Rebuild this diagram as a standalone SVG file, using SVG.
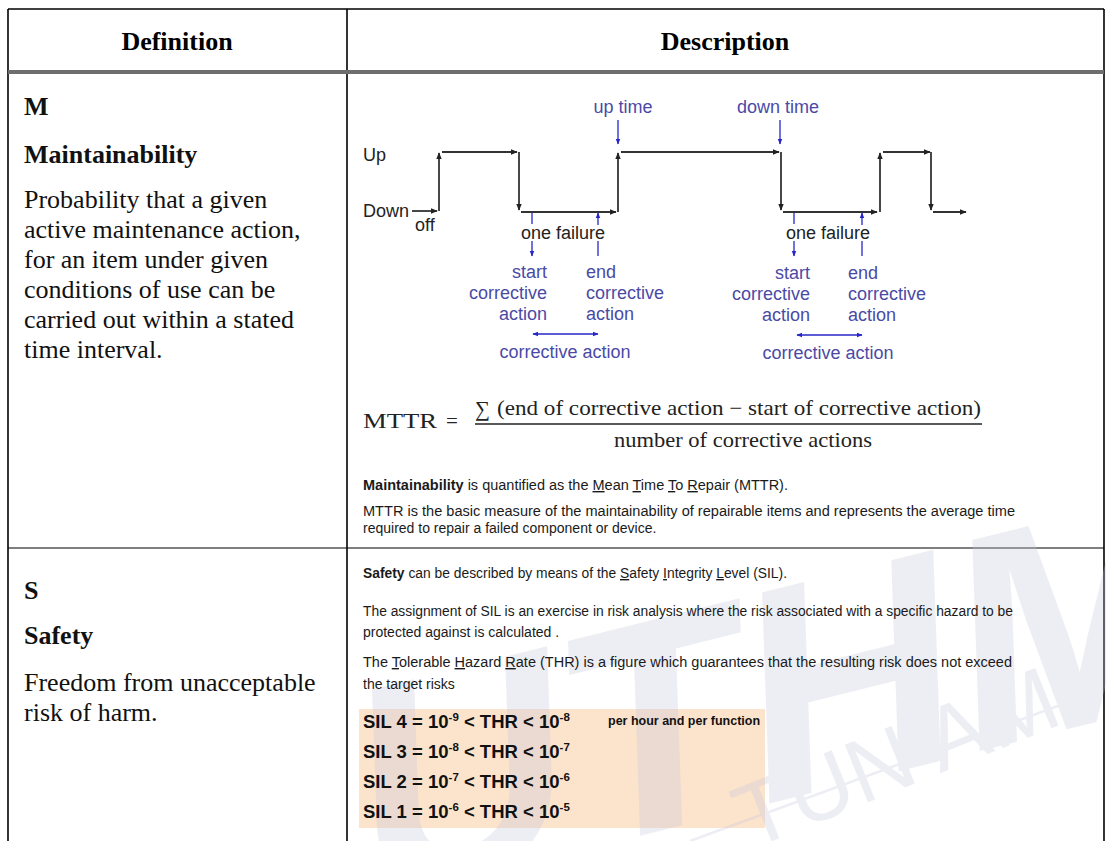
<svg xmlns="http://www.w3.org/2000/svg" width="1106" height="841" viewBox="0 0 1106 841">
<style>
.hdr{font-family:"Liberation Serif",serif;font-weight:bold;font-size:26px;fill:#000}
.lt{font-family:"Liberation Serif",serif;font-size:26px;fill:#111}
.ltb{font-family:"Liberation Serif",serif;font-size:26px;font-weight:bold;fill:#111}
.dg{font-family:"Liberation Sans",Arial,sans-serif;font-size:18px;fill:#222}
.bl{font-family:"Liberation Sans",Arial,sans-serif;font-size:18px;fill:#4a4aa6}
.fm{font-family:"Liberation Serif",serif;font-size:21px;fill:#222}
.ft{font-family:"Liberation Sans",Arial,sans-serif;font-size:14px;fill:#1a1a1a}
.sil{font-family:"Liberation Sans",Arial,sans-serif;font-size:18.5px;font-weight:bold;fill:#111}
.sup{font-size:11.5px}
.ph{font-family:"Liberation Sans",Arial,sans-serif;font-size:12.5px;font-weight:bold;fill:#111}
.u{text-decoration:underline}
.wave{stroke:#333;stroke-width:1.8;fill:none;marker-end:url(#ah)}
.bln{stroke:#2626c8;stroke-width:1.3;fill:none}
.tbl{stroke:#000;stroke-width:1.6}
.wm{font-family:"Liberation Sans",sans-serif;fill:#c4c4de}
</style>
<defs>
<marker id="ah" viewBox="0 0 10 10" refX="9" refY="5" markerWidth="7" markerHeight="7" markerUnits="userSpaceOnUse" orient="auto"><path d="M0,1 L10,5 L0,9 z" fill="#222"/></marker>
<marker id="bh" viewBox="0 0 10 10" refX="9" refY="5" markerWidth="6" markerHeight="6" markerUnits="userSpaceOnUse" orient="auto-start-reverse"><path d="M0,1 L10,5 L0,9 z" fill="#2626c8"/></marker>
</defs>
<rect width="1106" height="841" fill="#fff"/>

<g id="table">
<line class="tbl" x1="8" y1="9" x2="1104" y2="9"/>
<line class="tbl" x1="8" y1="9" x2="8" y2="841"/>
<line class="tbl" x1="347" y1="9" x2="347" y2="841"/>
<line class="tbl" x1="1104" y1="9" x2="1104" y2="841"/>
<rect x="8" y="70" width="1096" height="4" fill="#6e6e6e"/>
<line x1="8" y1="548" x2="1104" y2="548" stroke="#000" stroke-width="1.2"/>
</g>

<g id="header">
<text class="hdr" x="177" y="50" text-anchor="middle">Definition</text>
<text class="hdr" x="725" y="50" text-anchor="middle">Description</text>
</g>

<g id="def-m">
<text class="ltb" x="24" y="115">M</text>
<text class="ltb" x="24" y="163">Maintainability</text>
<text class="lt" x="24" y="208">Probability that a given</text>
<text class="lt" x="24" y="238">active maintenance action,</text>
<text class="lt" x="24" y="268">for an item under given</text>
<text class="lt" x="24" y="298">conditions of use can be</text>
<text class="lt" x="24" y="328">carried out within a stated</text>
<text class="lt" x="24" y="358">time interval.</text>
</g>

<g id="def-s">
<text class="ltb" x="24" y="599">S</text>
<text class="ltb" x="24" y="644">Safety</text>
<text class="lt" x="24" y="691">Freedom from unacceptable</text>
<text class="lt" x="24" y="721">risk of harm.</text>
</g>

<g id="timing-labels">
<text class="dg" x="363" y="161">Up</text>
<text class="dg" x="363" y="217">Down</text>
<text class="dg" x="415" y="231">off</text>
<text class="bl" x="623" y="113" text-anchor="middle">up time</text>
<text class="bl" x="778" y="113" text-anchor="middle">down time</text>
<text class="dg" x="563" y="239" text-anchor="middle">one failure</text>
<text class="dg" x="828" y="239" text-anchor="middle">one failure</text>
<text class="bl" text-anchor="end"><tspan x="547" y="278">start</tspan><tspan x="547" y="299">corrective</tspan><tspan x="547" y="320">action</tspan></text>
<text class="bl"><tspan x="586" y="278">end</tspan><tspan x="586" y="299">corrective</tspan><tspan x="586" y="320">action</tspan></text>
<text class="bl" text-anchor="end"><tspan x="810" y="279">start</tspan><tspan x="810" y="300">corrective</tspan><tspan x="810" y="321">action</tspan></text>
<text class="bl"><tspan x="848" y="279">end</tspan><tspan x="848" y="300">corrective</tspan><tspan x="848" y="321">action</tspan></text>
<text class="bl" x="565" y="358" text-anchor="middle">corrective action</text>
<text class="bl" x="828" y="359" text-anchor="middle">corrective action</text>
</g>

<g id="connectors">
<line class="wave" x1="412" y1="211" x2="437" y2="211"/>
<line class="wave" x1="439" y1="211" x2="439" y2="153"/>
<line class="wave" x1="442" y1="152" x2="517" y2="152"/>
<line class="wave" x1="519" y1="152" x2="519" y2="210"/>
<line class="wave" x1="521" y1="212" x2="616" y2="212"/>
<line class="wave" x1="618" y1="212" x2="618" y2="153"/>
<line class="wave" x1="621" y1="152" x2="779" y2="152"/>
<line class="wave" x1="781" y1="152" x2="781" y2="210"/>
<line class="wave" x1="783" y1="212" x2="877" y2="212"/>
<line class="wave" x1="880" y1="212" x2="880" y2="153"/>
<line class="wave" x1="883" y1="152" x2="930" y2="152"/>
<line class="wave" x1="931" y1="152" x2="931" y2="210"/>
<line class="wave" x1="933" y1="212" x2="966" y2="212"/>

<line class="bln" x1="618" y1="120" x2="618" y2="144" marker-end="url(#bh)"/>
<line class="bln" x1="780" y1="120" x2="780" y2="144" marker-end="url(#bh)"/>

<line class="bln" x1="532" y1="213" x2="532" y2="224"/>
<line class="bln" x1="532" y1="241" x2="532" y2="256" marker-end="url(#bh)"/>
<line class="bln" x1="598" y1="225" x2="598" y2="213" marker-end="url(#bh)"/>
<line class="bln" x1="598" y1="241" x2="598" y2="256"/>
<line class="bln" x1="794" y1="213" x2="794" y2="224"/>
<line class="bln" x1="794" y1="241" x2="794" y2="256" marker-end="url(#bh)"/>
<line class="bln" x1="862" y1="225" x2="862" y2="213" marker-end="url(#bh)"/>
<line class="bln" x1="862" y1="241" x2="862" y2="256"/>

<line class="bln" x1="533" y1="334" x2="598" y2="334" marker-start="url(#bh)" marker-end="url(#bh)"/>
<line class="bln" x1="797" y1="335" x2="862" y2="335" marker-start="url(#bh)" marker-end="url(#bh)"/>
</g>

<g id="formula">
<text class="fm" x="363" y="428" font-size="23.5" textLength="74" lengthAdjust="spacingAndGlyphs">MTTR</text>
<text class="fm" x="446" y="428" font-size="23.5">=</text>
<text class="fm" x="475" y="416" font-size="27">∑</text>
<text class="fm" x="497" y="415" textLength="484" lengthAdjust="spacingAndGlyphs">(end of corrective action − start of corrective action)</text>
<line x1="475" y1="424" x2="982" y2="424" stroke="#222" stroke-width="1.3"/>
<text class="fm" x="614" y="447" textLength="258" lengthAdjust="spacingAndGlyphs">number of corrective actions</text>
</g>

<g id="maint-text">
<text class="ft" x="363" y="490" textLength="425" lengthAdjust="spacingAndGlyphs"><tspan font-weight="bold">Maintainability</tspan> is quantified as the <tspan class="u">M</tspan>ean <tspan class="u">T</tspan>ime <tspan class="u">T</tspan>o <tspan class="u">R</tspan>epair (MTTR).</text>
<text class="ft" x="363" y="516" textLength="652" lengthAdjust="spacingAndGlyphs">MTTR is the basic measure of the maintainability of repairable items and represents the average time</text>
<text class="ft" x="363" y="533">required to repair a failed component or device.</text>
</g>

<rect id="sil-box" x="359" y="709" width="406" height="119" fill="#fce4cc"/>

<g id="watermark" opacity="0.3">
<text class="wm" x="0" y="0" transform="translate(362,905) rotate(-14) skewX(-12)" font-weight="bold" font-size="300">UTHM</text>
<text class="wm" x="0" y="0" transform="translate(750,850) rotate(-22)" font-size="90">TUN AM</text>
<line x1="690" y1="841" x2="1104" y2="689" stroke="#c4c4de" stroke-width="2.5"/>
</g>

<g id="safety-text">
<text class="ft" x="363" y="578" textLength="424" lengthAdjust="spacingAndGlyphs"><tspan font-weight="bold">Safety</tspan> can be described by means of the <tspan class="u">S</tspan>afety <tspan class="u">I</tspan>ntegrity <tspan class="u">L</tspan>evel (SIL).</text>
<text class="ft" x="363" y="616" textLength="650" lengthAdjust="spacingAndGlyphs">The assignment of SIL is an exercise in risk analysis where the risk associated with a specific hazard to be</text>
<text class="ft" x="363" y="637">protected against is calculated .</text>
<text class="ft" x="363" y="667" textLength="649" lengthAdjust="spacingAndGlyphs">The <tspan class="u">T</tspan>olerable <tspan class="u">H</tspan>azard <tspan class="u">R</tspan>ate (THR) is a figure which guarantees that the resulting risk does not exceed</text>
<text class="ft" x="363" y="689">the target risks</text>
</g>

<g id="sil-table">
<text class="sil" x="363" y="728">SIL 4 = 10<tspan class="sup" dy="-7">-9</tspan><tspan dy="7"> &lt; THR &lt; 10</tspan><tspan class="sup" dy="-7">-8</tspan></text>
<text class="ph" x="608" y="725">per hour and per function</text>
<text class="sil" x="363" y="758">SIL 3 = 10<tspan class="sup" dy="-7">-8</tspan><tspan dy="7"> &lt; THR &lt; 10</tspan><tspan class="sup" dy="-7">-7</tspan></text>
<text class="sil" x="363" y="788">SIL 2 = 10<tspan class="sup" dy="-7">-7</tspan><tspan dy="7"> &lt; THR &lt; 10</tspan><tspan class="sup" dy="-7">-6</tspan></text>
<text class="sil" x="363" y="818">SIL 1 = 10<tspan class="sup" dy="-7">-6</tspan><tspan dy="7"> &lt; THR &lt; 10</tspan><tspan class="sup" dy="-7">-5</tspan></text>
</g>
</svg>
